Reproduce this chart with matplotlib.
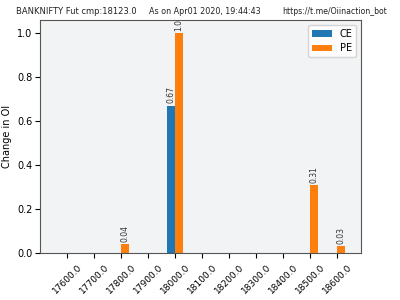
import numpy as np
import matplotlib
matplotlib.use('Agg')
import matplotlib.pyplot as plt

# Data
strikes = ['17600.0', '17700.0', '17800.0', '17900.0', '18000.0', '18100.0',
           '18200.0', '18300.0', '18400.0', '18500.0', '18600.0']
ce_change = [0, 0, 0, 0, 0.67, 0, 0, 0, 0, 0, 0]
pe_change = [0, 0, 0.04, 0, 1.0, 0, 0, 0, 0, 0.31, 0.03]

fig = plt.figure(figsize=(4, 3), dpi=100)
ax = fig.add_axes([0.1, 0.157, 0.803, 0.777])
ax.set_facecolor('#f2f3f5')

x = np.arange(len(strikes))
w = 0.3
b1 = ax.bar(x - w / 2, ce_change, w, color='#1f77b4', label='CE')
b2 = ax.bar(x + w / 2, pe_change, w, color='#ff7f0e', label='PE')

# Value labels on top of non-zero bars
for bars in (b1, b2):
    for rect in bars:
        h = rect.get_height()
        if h > 0:
            ax.text(rect.get_x() + rect.get_width() / 2, h + 0.01, str(round(h, 2)),
                    ha='center', va='bottom', rotation=90, fontsize=5.5, color='#333333')

ax.set_xticks(x)
ax.set_xticklabels(strikes, rotation=45, fontsize=6.5)
ax.set_xlim(-1.0, 10.9)
ax.set_ylim(0, 1.06)
ax.set_yticks([0.0, 0.2, 0.4, 0.6, 0.8, 1.0])
ax.tick_params(axis='y', labelsize=7, pad=2)
ax.set_ylabel('Change in OI', fontsize=7)
ax.yaxis.set_label_coords(-0.087, 0.5)

for s in ax.spines.values():
    s.set_color('#555555')
    s.set_linewidth(0.8)

ax.legend(loc='upper right', fontsize=7)

fig.text(0.04, 0.955, 'BANKNIFTY Fut cmp:18123.0', fontsize=6, color='#222222')
fig.text(0.372, 0.955, 'As on Apr01 2020, 19:44:43', fontsize=5.8, color='#222222')
fig.text(0.705, 0.955, 'https://t.me/Oiinaction_bot', fontsize=5.6, color='#222222')

fig.savefig('out.png', dpi=100)
